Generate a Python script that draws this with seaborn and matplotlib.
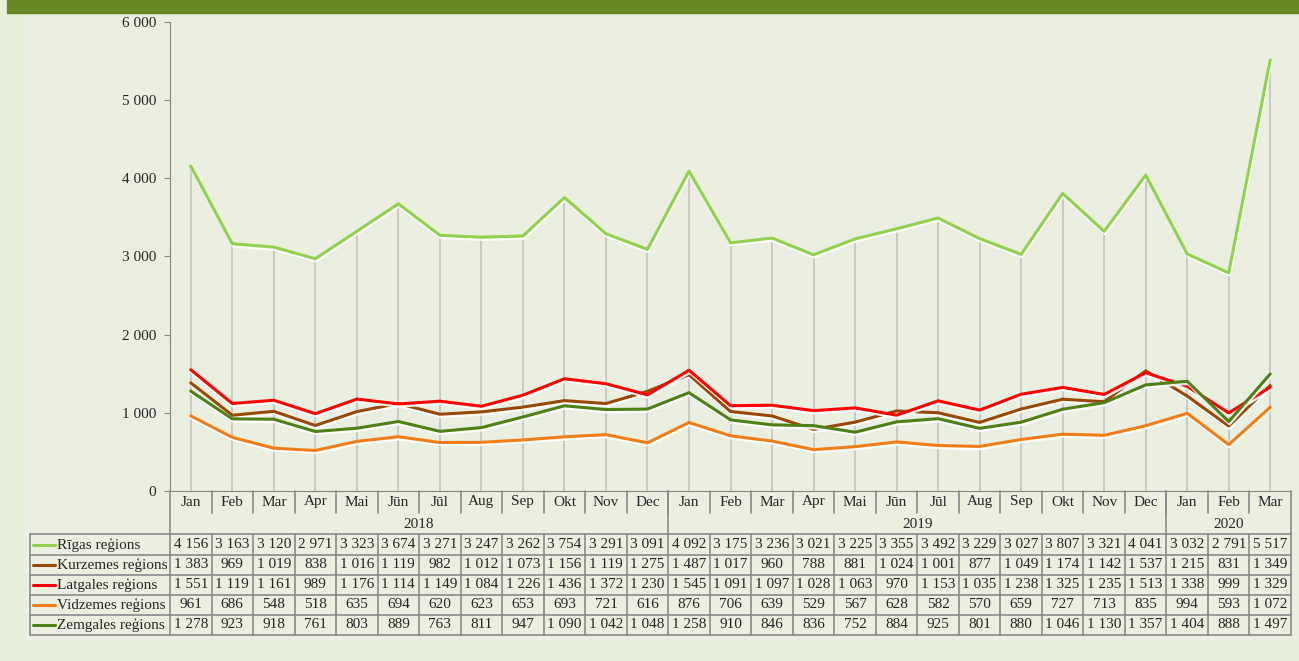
import matplotlib
matplotlib.use("Agg")
import matplotlib.pyplot as plt
import matplotlib.patheffects as pe
from matplotlib.patches import Rectangle
import seaborn as sns
import pandas as pd

months = ["Jan", "Feb", "Mar", "Apr", "Mai", "Jūn", "Jūl", "Aug", "Sep", "Okt", "Nov", "Dec",
          "Jan", "Feb", "Mar", "Apr", "Mai", "Jūn", "Jūl", "Aug", "Sep", "Okt", "Nov", "Dec",
          "Jan", "Feb", "Mar"]
years = ["2018", "2019", "2020"]
year_len = [12, 12, 3]

regions = ["Rīgas reģions", "Kurzemes reģions", "Latgales reģions", "Vidzemes reģions", "Zemgales reģions"]
riga = [4156, 3163, 3120, 2971, 3323, 3674, 3271, 3247, 3262, 3754, 3291, 3091,
        4092, 3175, 3236, 3021, 3225, 3355, 3492, 3229, 3027, 3807, 3321, 4041,
        3032, 2791, 5517]
kurzeme = [1383, 969, 1019, 838, 1016, 1119, 982, 1012, 1073, 1156, 1119, 1275,
           1487, 1017, 960, 788, 881, 1024, 1001, 877, 1049, 1174, 1142, 1537,
           1215, 831, 1349]
latgale = [1551, 1119, 1161, 989, 1176, 1114, 1149, 1084, 1226, 1436, 1372, 1230,
           1545, 1091, 1097, 1028, 1063, 970, 1153, 1035, 1238, 1325, 1235, 1513,
           1338, 999, 1329]
vidzeme = [961, 686, 548, 518, 635, 694, 620, 623, 653, 693, 721, 616,
           876, 706, 639, 529, 567, 628, 582, 570, 659, 727, 713, 835,
           994, 593, 1072]
zemgale = [1278, 923, 918, 761, 803, 889, 763, 811, 947, 1090, 1042, 1048,
           1258, 910, 846, 836, 752, 884, 925, 801, 880, 1046, 1130, 1357,
           1404, 888, 1497]
series = [riga, kurzeme, latgale, vidzeme, zemgale]
colors = ["#92d050", "#984807", "#ff0000", "#f07d1a", "#4f7f17"]

rows = []
for name, vals in zip(regions, series):
    for i, v in enumerate(vals):
        rows.append({"i": i, "value": v, "region": name})
df = pd.DataFrame(rows)


def fmt(v):
    return f"{v:,}".replace(",", " ")


sns.set_style("ticks")
plt.rcParams['font.family'] = ['Liberation Serif', 'DejaVu Serif']

W, H = 1299, 661
fig = plt.figure(figsize=(W / 100, H / 100), dpi=100)
fig.patch.set_facecolor("#e7f0d8")
fig.patches.append(Rectangle((22 / W, (H - 640) / H), (W - 22) / W, (640 - 13) / H,
                             transform=fig.transFigure, color="#ebefdf", zorder=-2))
fig.patches.append(Rectangle((7 / W, (H - 13) / H), 1, 13 / H,
                             transform=fig.transFigure, color="#688925", zorder=-1))

x0, x1, ytop, y0 = 170, 1291, 22, 491
n = len(months)
unit = (x1 - x0) / n

ax = fig.add_axes([x0 / W, (H - y0) / H, (x1 - x0) / W, (y0 - ytop) / H])
ax.set_facecolor("none")
ax.vlines(range(n), 0, riga, colors="#c6c6c6", lw=1.3, zorder=1)
sns.lineplot(data=df, x="i", y="value", hue="region", hue_order=regions, palette=colors,
             linewidth=2.2, ax=ax, legend=False, sort=False, zorder=3)
for ln in ax.lines:
    ln.set_path_effects([pe.SimpleLineShadow(offset=(0.6, -1.6), shadow_color="white", alpha=0.9),
                         pe.Normal()])
ax.set_xlim(-0.5, n - 0.5)
ax.set_ylim(0, 6000)
ax.set_yticks(range(0, 6001, 1000))
ax.set_yticklabels([fmt(v) for v in range(0, 6001, 1000)], fontsize=11)
ax.set_xticks([])
ax.set_xlabel("")
ax.set_ylabel("")
for s in ["top", "right"]:
    ax.spines[s].set_visible(False)
ax.spines["left"].set_color("#868686")
ax.spines["bottom"].set_color("#868686")
ax.tick_params(axis="y", length=4, color="#868686", pad=6)

# data table
tax = fig.add_axes([x0 / W, (H - 635) / H, (x1 - x0) / W, 144 / H])
tax.set_xlim(-0.5, n - 0.5)
tax.set_ylim(144, 0)
tax.axis("off")
lc = "#8a8a8a"
leg_left = -0.5 - (x0 - 30) / unit
row_y = [43, 64, 84, 104, 124, 144]
kw = dict(color=lc, lw=1.2, clip_on=False)

for k in range(n - 1):
    tax.plot([k + 0.5, k + 0.5], [0, 22], **kw)
    tax.plot([k + 0.5, k + 0.5], [43, 144], **kw)
start = 0
for yr, ln_ in zip(years, year_len):
    tax.text(start + (ln_ - 1) / 2, 33, yr, ha="center", va="center", fontsize=11)
    if start > 0:
        tax.plot([start - 0.5, start - 0.5], [0, 43], **kw)
    start += ln_
tax.plot([-0.5, -0.5], [0, 144], **kw)
tax.plot([n - 0.5, n - 0.5], [0, 144], **kw)
tax.plot([leg_left, leg_left], [43, 144], **kw)
for y in row_y:
    tax.plot([leg_left, n - 0.5], [y, y], **kw)

for k, m in enumerate(months):
    tax.text(k, 11, m, ha="center", va="center", fontsize=11)

for r, (name, vals, c) in enumerate(zip(regions, series, colors)):
    yc = (row_y[r] + row_y[r + 1]) / 2
    tax.plot([leg_left + 3 / unit, leg_left + 25 / unit], [yc, yc], color=c, lw=2.2, clip_on=False)
    tax.text(leg_left + 27 / unit, yc, name, ha="left", va="center", fontsize=11)
    for k, v in enumerate(vals):
        tax.text(k, yc, fmt(v), ha="center", va="center", fontsize=11)

fig.savefig("out.png", dpi=100, facecolor=fig.get_facecolor())
